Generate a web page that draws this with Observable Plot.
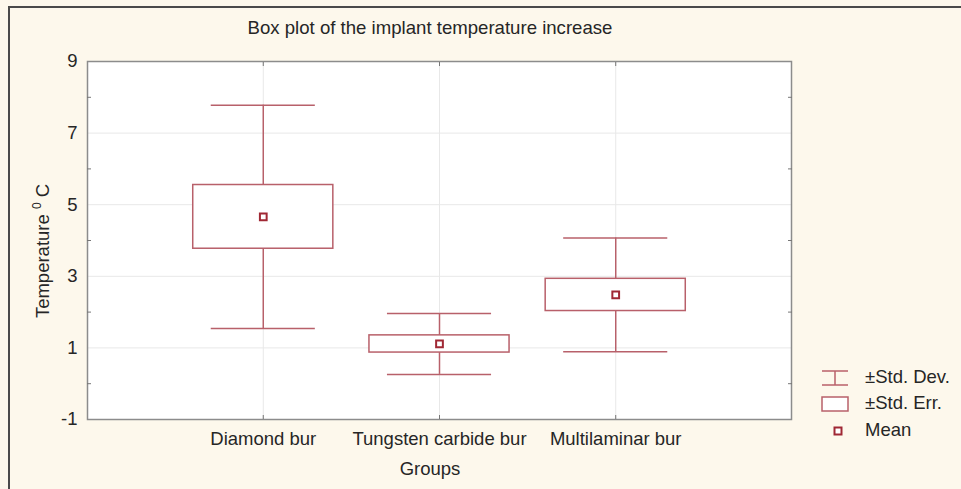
<!DOCTYPE html>
<html><head><meta charset="utf-8">
<script src="https://cdn.jsdelivr.net/npm/d3@7"></script>
<script src="https://cdn.jsdelivr.net/npm/@observablehq/plot@0.6"></script>
<style>
body{margin:0;background:#fdf8ec;}
#wrap{position:relative;width:961px;height:489px;background:#fdf8ec;overflow:hidden;font-family:"Liberation Sans",Arial,sans-serif;color:#262626;}
#wrap svg.plot{position:absolute;left:0;top:0;}
#border{position:absolute;left:8px;top:6px;width:1000px;height:600px;border-top:2px solid #4a4a4a;border-left:2px solid #4a4a4a;}
#title{position:absolute;left:0;width:860px;top:17px;text-align:center;font-size:18.6px;line-height:22px;}
#xlabel{position:absolute;left:0;width:860px;top:458px;text-align:center;font-size:18.5px;line-height:22px;}
#ylabel{position:absolute;left:-63px;top:240px;width:200px;height:22px;line-height:22px;text-align:center;font-size:18.5px;transform:rotate(-90deg);transform-origin:center;white-space:nowrap;}
#ylabel sup{font-size:12px;vertical-align:8px;}
.leg{position:absolute;left:821px;font-size:18.5px;line-height:22px;white-space:nowrap;}
.leg svg{vertical-align:middle;}
</style></head>
<body><div id="wrap">
<div id="border"></div>
<div id="title">Box plot of the implant temperature increase</div>
<div id="ylabel">Temperature <sup>0</sup> C</div>
<div id="xlabel">Groups</div>
<div id="legend"></div>
</div>
<script>
const groups = ["Diamond bur", "Tungsten carbide bur", "Multilaminar bur"];
const means = [4.66, 1.11, 2.48];
const stdErr = [0.89, 0.24, 0.45];
const stdDev = [3.12, 0.85, 1.59];
const yTicks = [-1, 1, 3, 5, 7, 9];
const yMinorTicks = [0, 2, 4, 6, 8];
const legendLabels = ["±Std. Dev.", "±Std. Err.", "Mean"];

const rows = groups.map((g, i) => ({group: g, mean: means[i], se: stdErr[i], sd: stdDev[i]}));
const boxColor = "#b8606a";
const meanColor = "#a02834";
const gridColor = "#e8e8e8";

const chart = Plot.plot({
  width: 961, height: 489,
  marginLeft: 87, marginRight: 170, marginTop: 61, marginBottom: 70,
  x: {type: "band", domain: groups, paddingInner: 0.205, paddingOuter: 0.6, round: false},
  y: {domain: [-1, 9]},
  style: {background: "transparent", fontFamily: '"Liberation Sans", Arial, sans-serif', fontSize: "18.5px", color: "#262626"},
  marks: [
    Plot.frame({fill: "white"}),
    Plot.gridY(yTicks.filter(v => v > -1 && v < 9), {stroke: gridColor, strokeOpacity: 1}),
    Plot.gridX({stroke: gridColor, strokeOpacity: 1}),
    Plot.ruleX(rows, {x: "group", y1: d => d.mean - d.sd, y2: d => d.mean + d.sd, stroke: boxColor, strokeWidth: 1.5}),
    Plot.tickY(rows, {x: "group", y: d => d.mean + d.sd, inset: 18, stroke: boxColor, strokeWidth: 1.5}),
    Plot.tickY(rows, {x: "group", y: d => d.mean - d.sd, inset: 18, stroke: boxColor, strokeWidth: 1.5}),
    Plot.barY(rows, {x: "group", y1: d => d.mean - d.se, y2: d => d.mean + d.se, fill: "white", stroke: boxColor, strokeWidth: 1.5}),
    Plot.dot(rows, {x: "group", y: "mean", symbol: "square", r: 3.8, stroke: meanColor, strokeWidth: 2, fill: "white"}),
    Plot.frame({stroke: "#8c8c8c", strokeWidth: 1.5}),
    Plot.axisY(yMinorTicks, {anchor: "left", tickSize: -4, tickFormat: () => "", label: null, stroke: "#777"}),
    Plot.axisY(yMinorTicks, {anchor: "right", tickSize: -4, tickFormat: () => "", label: null, stroke: "#777"}),
    Plot.axisX({anchor: "bottom", tickSize: -4, tickFormat: () => "", label: null, stroke: "#777"}),
    Plot.axisX({anchor: "top", tickSize: -4, tickFormat: () => "", label: null, stroke: "#777"}),
    Plot.axisY(yTicks, {anchor: "left", tickSize: 0, tickPadding: 10, tickFormat: d => String(d), label: null, fill: "#262626"}),
    Plot.axisX({anchor: "bottom", tickSize: 0, tickPadding: 12, label: null, fill: "#262626"})
  ]
});
chart.classList.add("plot");
document.getElementById("wrap").appendChild(chart);

// legend
const legend = document.getElementById("legend");
const tops = [366, 392, 419];
legendLabels.forEach((lab, i) => {
  const div = document.createElement("div");
  div.className = "leg";
  div.style.top = tops[i] + "px";
  let sym;
  if (i === 0) {
    sym = `<svg width="28" height="18"><line x1="1" x2="27" y1="2" y2="2" stroke="${boxColor}" stroke-width="1.5"/><line x1="1" x2="27" y1="16" y2="16" stroke="${boxColor}" stroke-width="1.5"/><line x1="14" x2="14" y1="2" y2="16" stroke="${boxColor}" stroke-width="1.5"/></svg>`;
  } else if (i === 1) {
    sym = `<svg width="28" height="18"><rect x="1" y="2" width="26" height="14" fill="white" stroke="${boxColor}" stroke-width="1.5"/></svg>`;
  } else {
    sym = `<svg width="28" height="18"><rect x="13.5" y="5.5" width="7" height="7" fill="white" stroke="${meanColor}" stroke-width="2"/></svg>`;
  }
  div.innerHTML = sym + `<span style="margin-left:16px">${lab}</span>`;
  legend.appendChild(div);
});
</script>
</body></html>
